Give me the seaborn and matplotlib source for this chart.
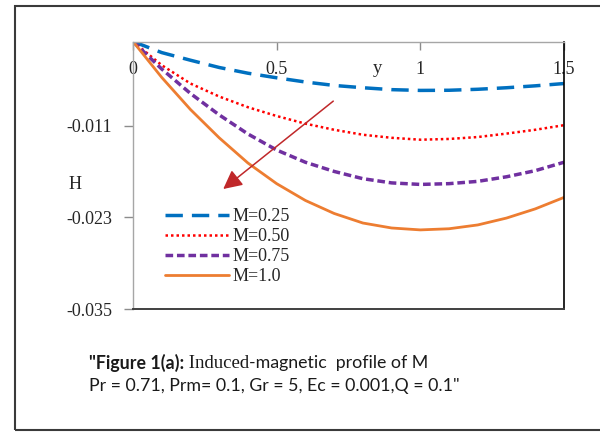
import matplotlib
matplotlib.use("Agg")
import matplotlib.pyplot as plt
from matplotlib.patches import Rectangle
import seaborn as sns
import pandas as pd

# Induced magnetic field H across the channel for several Hartmann numbers M
y_pos = [0.0, 0.1, 0.2, 0.3, 0.4, 0.5, 0.6, 0.7, 0.8, 0.9, 1.0, 1.1, 1.2, 1.3, 1.4, 1.5]

h_m025 = [0.0, -0.00145, -0.00245, -0.0034, -0.00415, -0.00475, -0.0053, -0.00575, -0.00605,
          -0.0063, -0.0064, -0.00638, -0.00625, -0.00605, -0.0058, -0.0055]
h_m050 = [0.0, -0.0031, -0.0055, -0.0072, -0.0086, -0.00975, -0.01075, -0.01155, -0.0122,
          -0.0126, -0.01285, -0.01275, -0.0125, -0.01205, -0.01155, -0.01095]
h_m075 = [0.0, -0.0036, -0.0068, -0.0096, -0.0121, -0.0142, -0.0158, -0.0170, -0.01795,
          -0.0185, -0.0187, -0.0186, -0.0183, -0.0177, -0.0169, -0.0158]
h_m100 = [0.0, -0.0047, -0.0089, -0.0126, -0.0159, -0.0186, -0.0208, -0.0225, -0.02375,
          -0.0244, -0.02465, -0.0245, -0.0240, -0.0231, -0.0219, -0.0204]

series_labels = ["M=0.25", "M=0.50", "M=0.75", "M=1.0"]
series_values = [h_m025, h_m050, h_m075, h_m100]

x_ticks = [0, 0.5, 1, 1.5]
x_tick_labels = ["0", "0.5", "1", "1.5"]
y_ticks = [-0.035, -0.023, -0.011]
y_tick_labels = ["-0.035", "-0.023", "-0.011"]

caption_line1 = ['"Figure 1(a):', " Induced", "-magnetic  profile of M"]
caption_line2 = 'Pr = 0.71, Prm= 0.1, Gr = 5, Ec = 0.001,Q = 0.1"'

frames = []
for lab, vals in zip(series_labels, series_values):
    frames.append(pd.DataFrame({"y": y_pos, "H": vals, "M": lab}))
df = pd.concat(frames, ignore_index=True)

sns.set_theme(style="white")
plt.rcParams["font.family"] = ["Liberation Serif", "DejaVu Serif"]

colors = {"M=0.25": "#0070C0", "M=0.50": "#FF0000", "M=0.75": "#7030A0", "M=1.0": "#ED7D31"}
styles = {
    "M=0.25": dict(lw=2.5, ls=(0, (5.0, 2.6))),
    "M=0.50": dict(lw=1.8, ls=(0, (1.0, 1.2))),
    "M=0.75": dict(lw=2.5, ls=(0, (2.2, 1.1))),
    "M=1.0": dict(lw=2.0, ls="-"),
}

fig = plt.figure(figsize=(6.0, 4.32), dpi=100)
ax = fig.add_axes([133 / 600, 1 - 309 / 432, 431 / 600, 267.5 / 432])

for lab in series_labels:
    sub = df[df["M"] == lab]
    sns.lineplot(data=sub, x="y", y="H", ax=ax, color=colors[lab], label=lab,
                 linewidth=styles[lab]["lw"], linestyle=styles[lab]["ls"],
                 sort=False, estimator=None)
for ln in ax.lines:
    ln.set_solid_joinstyle("round")
    ln.set_dash_joinstyle("round")

ax.set_xlim(0, 1.5)
ax.set_ylim(-0.035, 0)

# x axis sits on H = 0 at the top, labels hang just under it
ax.xaxis.set_ticks_position("top")
ax.set_xticks(x_ticks)
ax.set_xticklabels(x_tick_labels)
ax.tick_params(axis="x", direction="in", length=6, width=1, color="#8c8c8c",
               labelsize=13, pad=-26, labeltop=True, labelbottom=False)
ax.set_yticks(y_ticks)
ax.set_yticklabels(y_tick_labels)
ax.tick_params(axis="y", direction="out", length=6.5, width=1, color="#8c8c8c",
               labelsize=13, pad=8.5, left=True)

ax.set_xlabel("y", fontsize=13.5)
ax.xaxis.set_label_position("top")
ax.xaxis.label.set_va("center")
ax.xaxis.set_label_coords(0.568, 0.90)
ax.set_ylabel("H", fontsize=13, rotation=0)
ax.yaxis.label.set_va("center")
ax.yaxis.set_label_coords(-0.135, 0.464)

for side in ["left", "top"]:
    ax.spines[side].set_color("#a6a6a6")
    ax.spines[side].set_linewidth(1.0)
ax.spines["bottom"].set_color("#404040")
ax.spines["bottom"].set_linewidth(1.4)
ax.spines["right"].set_color("black")
ax.spines["right"].set_linewidth(1.2)

leg = ax.legend(loc="upper left", bbox_to_anchor=(0.074, 0.378), frameon=False,
                fontsize=13, handlelength=3.55, handletextpad=0.22, labelspacing=0.17,
                borderpad=0, borderaxespad=0)

# arrow showing the direction of increasing M
ax.annotate("", xy=(0.314, -0.0193), xytext=(0.697, -0.0078),
            arrowprops=dict(arrowstyle="-|>,head_length=0.95,head_width=0.48",
                            color="#C0282A", lw=1.1, shrinkA=0, shrinkB=0))

# outer frame
fig.patches.append(Rectangle((15 / 600, 2 / 432), 1.0, 424 / 432, transform=fig.transFigure,
                             fill=False, edgecolor="#3a3a3a", lw=1.5, clip_on=False))

# caption with mixed fonts
fig.canvas.draw()
renderer = fig.canvas.get_renderer()
sans = ["Lato", "DejaVu Sans"]
serif = ["Liberation Serif", "DejaVu Serif"]
piece_fonts = [dict(family=sans, weight="bold", size=12.8),
               dict(family=serif, weight="normal", size=13.5),
               dict(family=sans, weight="normal", size=12.8)]
x_px = 89
y1 = 1 - 363 / 432
for txt, fnt in zip(caption_line1, piece_fonts):
    t = fig.text(x_px / 600, y1, txt, va="center", ha="left", color="#1a1a1a",
                 family=fnt["family"], weight=fnt["weight"], fontsize=fnt["size"])
    bb = t.get_window_extent(renderer)
    x_px += bb.width
fig.text(89 / 600, 1 - 386 / 432, caption_line2, fontsize=12.8, va="center", ha="left",
         family=sans, color="#1a1a1a")

fig.savefig("out.png", dpi=100)
